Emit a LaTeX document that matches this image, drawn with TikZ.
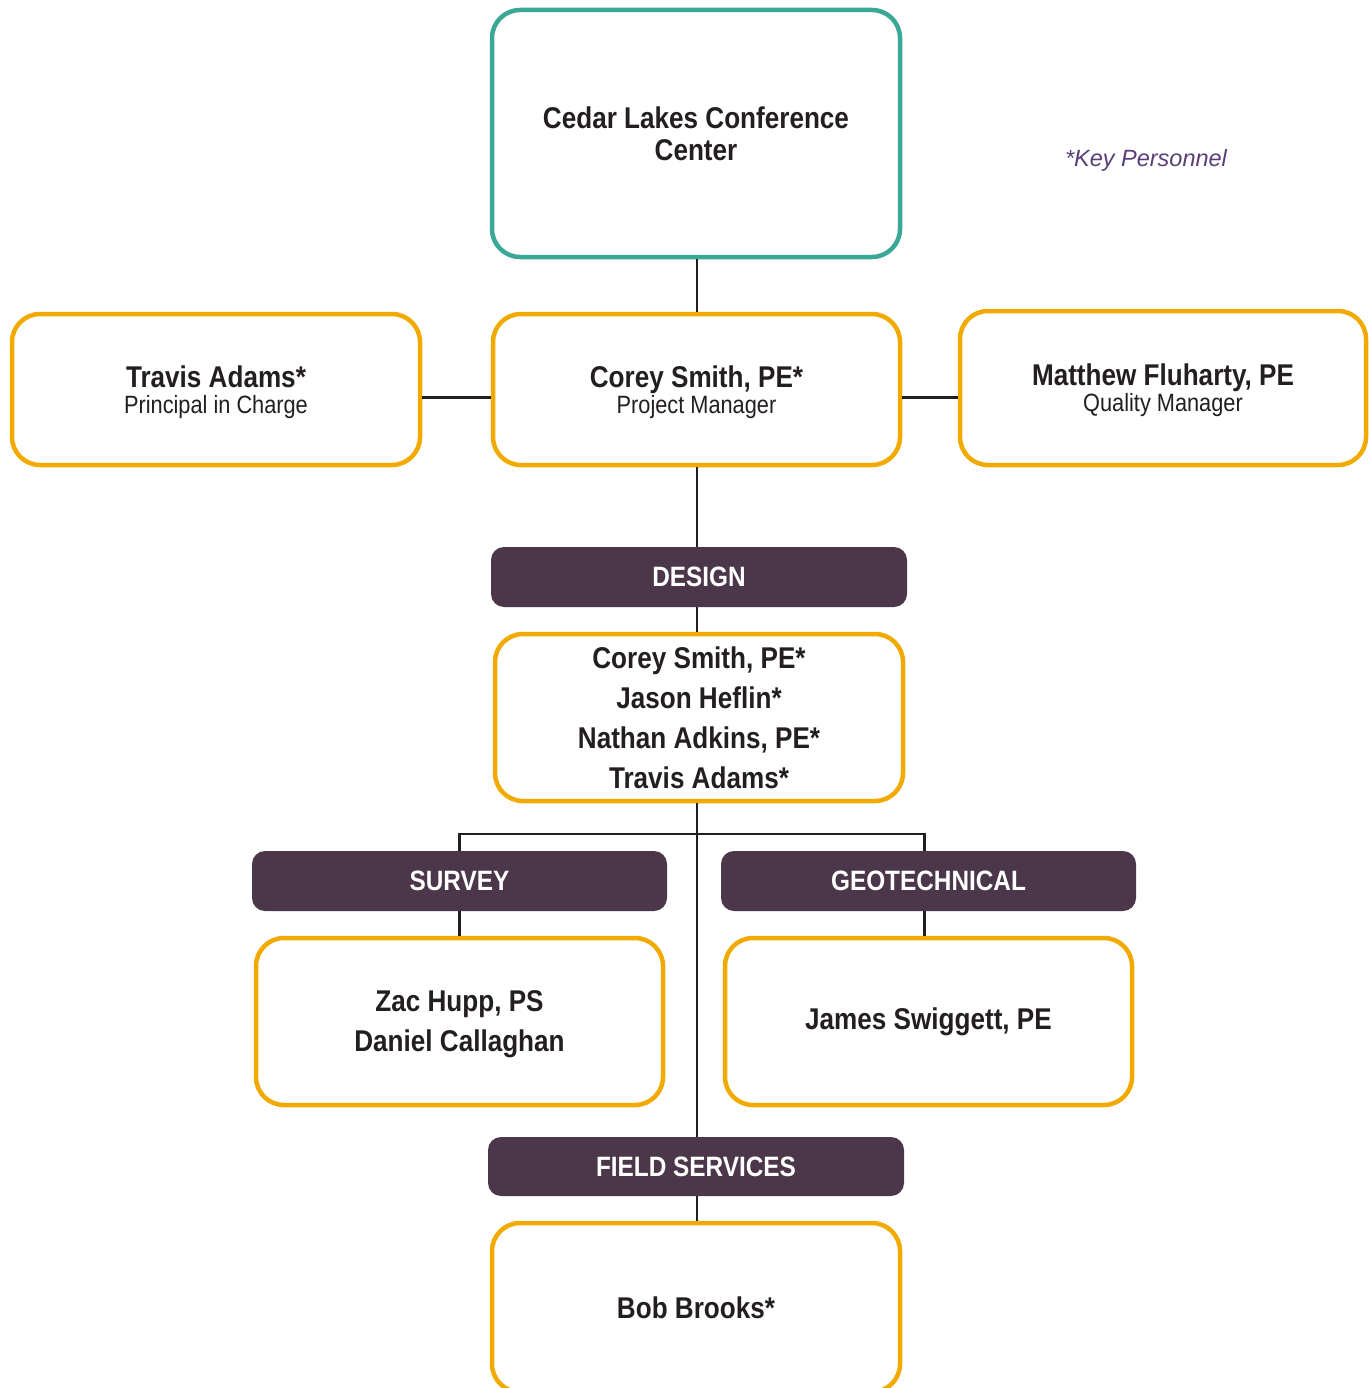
\documentclass[tikz,border=0pt]{standalone}
\usepackage{fontspec}
\setmainfont{Liberation Sans}[FakeStretch=0.87]
\newfontfamily\keyfont{Liberation Sans}
\definecolor{tealc}{HTML}{3AA897}
\definecolor{orangec}{HTML}{F2AA00}
\definecolor{barc}{HTML}{4B3749}
\definecolor{txtc}{HTML}{231F20}
\definecolor{keyc}{HTML}{5A3E78}
\definecolor{linec}{HTML}{231F20}
\newcommand{\rl}{\fontsize{25}{26}\selectfont\mdseries}
\tikzset{
  pbox/.style={draw=orangec, line width=4.5pt, rounded corners=28pt, fill=white,
    inner sep=0pt, align=center, text=txtc},
  tbox/.style={pbox, draw=tealc},
  namesA/.style={font=\fontsize{30}{32}\selectfont\bfseries},
  namesB/.style={font=\fontsize{30}{40}\selectfont\bfseries},
  namesC/.style={font=\fontsize{30}{26}\selectfont, text depth=0pt},
  bar/.style={fill=barc, rounded corners=13pt, inner sep=0pt, text=white,
    font=\fontsize{28}{30}\selectfont\bfseries},
  conn/.style={draw=linec, line width=2.5pt}
}
\begin{document}
\begin{tikzpicture}[x=1pt,y=-1pt]
\useasboundingbox (0,0) rectangle (1370,1388);
% boxes
\node[tbox, namesA, minimum width=408pt, minimum height=247pt] (top) at (696,133.5)
  {Cedar Lakes Conference\\Center};
\node[pbox, namesC, minimum width=408pt, minimum height=151pt] (travis) at (216,389.5)
  {\textbf{Travis Adams*}\\{\rl Principal in Charge}};
\node[pbox, namesC, minimum width=407pt, minimum height=151pt] (corey) at (696.5,389.5)
  {\textbf{Corey Smith, PE*}\\{\rl Project Manager}};
\node[pbox, namesC, minimum width=406pt, minimum height=154pt] (matt) at (1163,388)
  {\textbf{Matthew Fluharty, PE}\\{\rl Quality Manager}};
\node[text=keyc, font=\keyfont\fontsize{23.5}{26}\selectfont\itshape] (key) at (1146,160) {*Key Personnel};
\node[bar, minimum width=416pt, minimum height=60pt] (dbar) at (699,577) {DESIGN};
\node[pbox, namesB, minimum width=408pt, minimum height=167pt] (dbox) at (699,717.5)
  {Corey Smith, PE*\\Jason Heflin*\\Nathan Adkins, PE*\\Travis Adams*};
\node[bar, minimum width=415pt, minimum height=60pt] (sbar) at (459.5,881) {SURVEY};
\node[bar, minimum width=415pt, minimum height=60pt] (gbar) at (928.5,881) {GEOTECHNICAL};
\node[pbox, namesB, text depth=0pt, minimum width=407pt, minimum height=167pt] (sbox) at (459.5,1021.5)
  {Zac Hupp, PS\\Daniel Callaghan};
\node[pbox, namesB, minimum width=407pt, minimum height=167pt] (gbox) at (928.5,1021.5)
  {James Swiggett, PE};
\node[bar, minimum width=416pt, minimum height=59pt] (fbar) at (696,1166.5) {FIELD SERVICES};
\node[pbox, namesB, minimum width=408pt, minimum height=169pt] (fbox) at (696,1307.5)
  {Bob Brooks*};
% connectors
\coordinate (branch) at (697,834);
\draw[conn] (top.south -| branch) -- (corey.north -| branch);
\draw[conn] ([yshift=-8pt]corey.west) -- ([yshift=-8pt]corey.west -| travis.east);
\draw[conn] ([yshift=-8pt]corey.east) -- ([yshift=-8pt]corey.east -| matt.west);
\draw[conn] (corey.south -| branch) -- (dbar.north -| branch);
\draw[conn] (dbar.south -| branch) -- (dbox.north -| branch);
\draw[conn] (dbox.south -| branch) -- (fbar.north -| branch);
\draw[conn] (fbar.south -| branch) -- (fbox.north -| branch);
\draw[conn] (sbar.north) -- (sbar.north |- branch) -- ([xshift=-4pt]gbar.north |- branch) -- ([xshift=-4pt]gbar.north);
\draw[conn] (sbar.south) -- (sbox.north);
\draw[conn] ([xshift=-4pt]gbar.south) -- ([xshift=-4pt]gbox.north);
\end{tikzpicture}
\end{document}
